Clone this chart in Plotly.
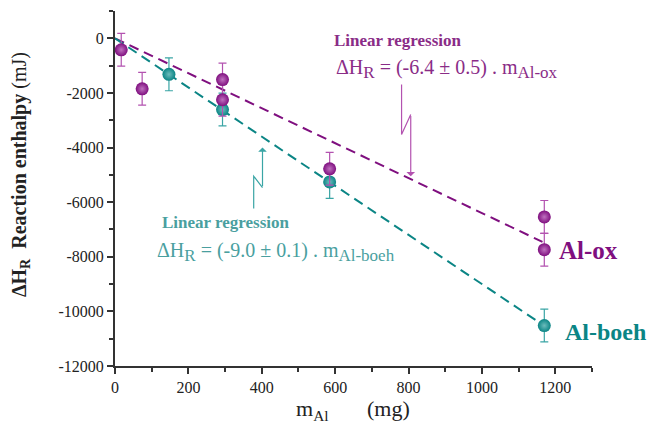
import plotly.graph_objects as go

# Data
ox_mass = [17, 74, 293, 293, 585, 1170, 1170]
ox_dh = [-420, -1850, -1510, -2250, -4780, -6540, -7740]
ox_err = [600, 600, 600, 600, 600, 600, 600]

boeh_mass = [147, 293, 585, 1170]
boeh_dh = [-1320, -2610, -5260, -10520]
boeh_err = [600, 600, 600, 600]

fit_x = [0, 1165]
ox_slope = -6.4
boeh_slope = -9.0

y_tickvals = [0, -2000, -4000, -6000, -8000, -10000, -12000]
y_ticktext = ["0", "-2000", "-4000", "-6000", "-8000", "-10000", "-12000"]
x_tickvals = [0, 200, 400, 600, 800, 1000, 1200]

PURPLE = "#7f0f7f"
PURPLE_TXT = "#8a2c87"
PURPLE_ERR = "#b352b0"
TEAL = "#0b8585"
TEAL_TXT = "#4a9f9f"
TEAL_ERR = "#3aa5a5"
FONT = "Liberation Serif"

# Annotation arrow paths (data coordinates)
ox_arrow_path = [(781, -1690), (781, -3520), (806, -2790)]
ox_arrow_tip = (806, -5050)
boeh_arrow_path = [(378, -6230), (378, -5050), (402, -5470)]
boeh_arrow_tip = (402, -4000)

fig = go.Figure()

fig.add_trace(go.Scatter(x=fit_x, y=[ox_slope * v for v in fit_x], mode="lines",
                         line=dict(color=PURPLE, width=2, dash="10px,6px"), showlegend=False))
fig.add_trace(go.Scatter(x=fit_x, y=[boeh_slope * v for v in fit_x], mode="lines",
                         line=dict(color=TEAL, width=2, dash="10px,6px"), showlegend=False))

fig.add_trace(go.Scatter(
    x=boeh_mass, y=boeh_dh, mode="markers",
    error_y=dict(type="data", array=boeh_err, color=TEAL_ERR, thickness=1.2, width=4),
    marker=dict(size=13, color=TEAL, gradient=dict(type="radial", color="#6cbcbc"),
                line=dict(width=0)),
    showlegend=False))
fig.add_trace(go.Scatter(
    x=ox_mass, y=ox_dh, mode="markers",
    error_y=dict(type="data", array=ox_err, color=PURPLE_ERR, thickness=1.2, width=4),
    marker=dict(size=13, color=PURPLE, gradient=dict(type="radial", color="#bf70bf"),
                line=dict(width=0)),
    showlegend=False))

def path_str(pts):
    return "M " + " L ".join(f"{x},{y}" for x, y in pts)

fig.add_shape(type="path", xref="x", yref="y", path=path_str(ox_arrow_path),
              line=dict(color=PURPLE_ERR, width=1.2))
fig.add_shape(type="path", xref="x", yref="y", path=path_str(boeh_arrow_path),
              line=dict(color=TEAL_ERR, width=1.2))

fig.add_annotation(x=ox_arrow_tip[0], y=ox_arrow_tip[1], ax=ox_arrow_path[-1][0], ay=ox_arrow_path[-1][1],
                   xref="x", yref="y", axref="x", ayref="y", text="", showarrow=True,
                   arrowhead=1, arrowsize=1.2, arrowwidth=1.2, arrowcolor=PURPLE_ERR)
fig.add_annotation(x=boeh_arrow_tip[0], y=boeh_arrow_tip[1], ax=boeh_arrow_path[-1][0], ay=boeh_arrow_path[-1][1],
                   xref="x", yref="y", axref="x", ayref="y", text="", showarrow=True,
                   arrowhead=1, arrowsize=1.2, arrowwidth=1.2, arrowcolor=TEAL_ERR)

SUB = "<sub><span style='font-size:17px'>{}</span></sub>"

# Text annotations (positions in pixels, converted below)
texts = [
    (332, 40, "<b>Linear regression</b>", 17, PURPLE_TXT),
    (334, 69, "ΔH" + SUB.format("R") + " = (-6.4 ± 0.5) . m" + SUB.format("Al-ox"), 20, PURPLE_TXT),
    (160, 222, "<b>Linear regression</b>", 17, TEAL_TXT),
    (155, 252, "ΔH" + SUB.format("R") + " = (-9.0 ± 0.1) . m" + SUB.format("Al-boeh"), 20, TEAL_TXT),
    (557, 250, "<b>Al-ox</b>", 25, PURPLE),
    (563, 332, "<b>Al-boeh</b>", 24, TEAL),
]

W, H = 653, 434
ML, MR, MT, MB = 115, 61, 11, 68
PW, PH = W - ML - MR, H - MT - MB

def px(x):
    return (x - ML) / PW

def py(y):
    return 1 - (y - MT) / PH

for x, y, t, s, c in texts:
    fig.add_annotation(x=px(x), y=py(y), xref="paper", yref="paper", text=t,
                       showarrow=False, xanchor="left", yanchor="middle",
                       font=dict(family=FONT, size=s, color=c))

# axis titles
fig.add_annotation(x=px(20), y=py(175), xref="paper", yref="paper",
                   text="<b>ΔH<sub>R</sub>  Reaction enthalpy</b> (mJ)", textangle=-90,
                   showarrow=False, xanchor="center", yanchor="middle",
                   font=dict(family=FONT, size=20, color="#222"))
fig.add_annotation(x=px(353), y=py(410), xref="paper", yref="paper",
                   text="m<sub>Al</sub>       (mg)",
                   showarrow=False, xanchor="center", yanchor="middle",
                   font=dict(family=FONT, size=22, color="#222"))

fig.update_layout(
    width=W, height=H,
    margin=dict(l=ML, r=MR, t=MT, b=MB, autoexpand=False),
    plot_bgcolor="white", paper_bgcolor="white",
    font=dict(family=FONT, size=16, color="#222"),
    showlegend=False,
)
fig.update_xaxes(
    range=[0, 1300], tickvals=x_tickvals, ticks="outside", ticklen=6, tickwidth=1.5,
    tickcolor="#333", showline=True, linecolor="#333", linewidth=2, showgrid=False,
    zeroline=False, tickfont=dict(family=FONT, size=16, color="#222"), automargin=False,
    minor=dict(dtick=100, ticks="outside", ticklen=4, tickcolor="#333", tickwidth=1.5),
)
fig.update_yaxes(
    range=[-12000, 1000], tickvals=y_tickvals, ticktext=y_ticktext, ticks="outside",
    ticklen=6, tickwidth=1.5, tickcolor="#333", showline=True, linecolor="#333",
    linewidth=2, showgrid=False, zeroline=False, automargin=False,
    tickfont=dict(family=FONT, size=16, color="#222"),
    minor=dict(dtick=1000, ticks="outside", ticklen=4, tickcolor="#333", tickwidth=1.5),
)

fig.write_html("out.html", config={"displayModeBar": False},
               post_script="document.body.style.margin='0px';document.body.style.padding='0px';")
